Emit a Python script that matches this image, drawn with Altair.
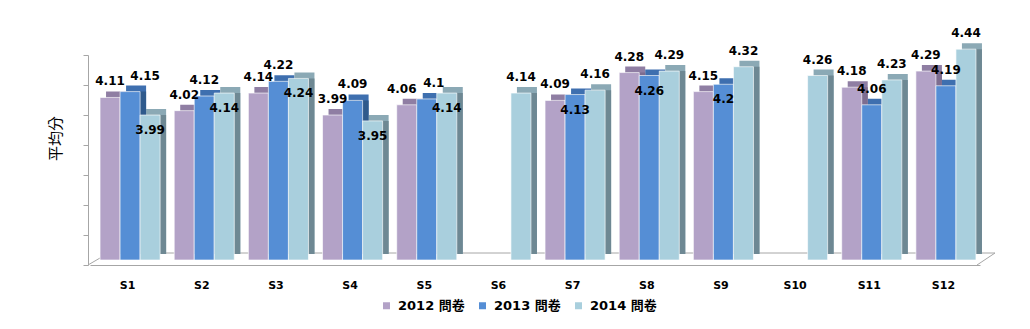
import altair as alt
import pandas as pd

# ---------------- data ----------------
categories = ["S1", "S2", "S3", "S4", "S5", "S6", "S7", "S8", "S9", "S10", "S11", "S12"]
series = ["2012 問卷", "2013 問卷", "2014 問卷"]
v2012 = [4.11, 4.02, 4.14, 3.99, 4.06, None, 4.09, 4.28, 4.15, None, 4.18, 4.29]
v2013 = [4.15, 4.12, 4.22, 4.09, 4.1, None, 4.13, 4.26, 4.2, None, 4.06, 4.19]
v2014 = [3.99, 4.14, 4.24, 3.95, 4.14, 4.14, 4.16, 4.29, 4.32, 4.26, 4.23, 4.44]

# ---------------- styles ----------------
# label placement: some labels sit just inside the bar top; a few are nudged sideways (px)
label_below = {"2013 問卷": ["S7", "S8", "S9"], "2014 問卷": ["S1", "S2", "S3", "S4", "S5"]}
label_dx = {("S1", "2013 問卷"): 15, ("S5", "2013 問卷"): 7, ("S5", "2012 問卷"): -5}

front_colors = ["#B3A2C7", "#558ED5", "#A9CFDD"]
top_colors = ["#8F7EA3", "#3E6FAF", "#8BA9B5"]
side_colors = ["#7D6D90", "#2F5A8C", "#6E8893"]
gray = "#A6A6A6"
FONT = "DejaVu Sans"
CJK = "DejaVu Sans, Noto Sans CJK TC"
GROUP = 0.81           # fraction of a category slot used by the bar group
BAR = GROUP / len(series)

rows = []
for k, (s, vals) in enumerate(zip(series, [v2012, v2013, v2014])):
    for i, (c, v) in enumerate(zip(categories, vals)):
        if v is None:
            continue
        x0 = i + 0.5 - GROUP / 2 + k * BAR
        rows.append({"cat": c, "year": s, "value": v, "base": 3.0,
                     "x0": x0, "x1": x0 + BAR, "xc": x0 + BAR / 2,
                     "pos": "below" if c in label_below.get(s, []) else "above",
                     "dx": label_dx.get((c, s), 0)})
df = pd.DataFrame(rows)

W, H = 890, 210
px_per_unit = 205 / 1.4
d0 = 3.0 - 5 / px_per_unit
d1 = 4.4
tick_vals = [d0 + i * (d1 - d0) / 7 for i in range(8)]

xscale = alt.Scale(domain=[0, len(categories)], nice=False, zero=False)
label_expr = "[" + ",".join("'%s'" % c for c in categories) + "][floor(datum.value)]"
xaxis = alt.Axis(title=None, ticks=False, grid=False, labelPadding=14, labelFontSize=11,
                 labelFontWeight="bold", labelFont=FONT, labelColor="#000000",
                 domainColor=gray, domainWidth=1, labelAngle=0,
                 values=[i + 0.5 for i in range(len(categories))], labelExpr=label_expr)
x0 = alt.X("x0:Q", scale=xscale, axis=xaxis)
x1 = alt.X2("x1:Q")
yscale = alt.Scale(domain=[d0, d1], nice=False, zero=False)
ys = alt.Y("value:Q", scale=yscale,
           axis=alt.Axis(title="平均分", labels=False, values=tick_vals, tickSize=5,
                         tickColor=gray, domainColor=gray, grid=False,
                         titleFont="Noto Sans CJK TC", titleFontSize=15, titleFontWeight="normal",
                         titleColor="#000000", titleX=-33, titleY=83, titleAngle=270,
                         titleAlign="center", titleBaseline="middle", offset=2))
y2 = alt.Y2("base:Q")

base = alt.Chart(df)

back_top = base.mark_bar(xOffset=9, x2Offset=9, yOffset=-6, y2Offset=-6).encode(
    x=x0, x2=x1, y=ys, y2=y2,
    color=alt.Color("year:N", scale=alt.Scale(domain=series, range=top_colors), legend=None))
back_side = base.mark_bar(xOffset=9, x2Offset=9, y2Offset=-6).encode(
    x=x0, x2=x1, y=ys, y2=y2,
    color=alt.Color("year:N", scale=alt.Scale(domain=series, range=side_colors), legend=None))
front = base.mark_bar(xOffset=3, x2Offset=3, stroke="#FFFFFF", strokeWidth=0.8,
                      strokeOpacity=0.8).encode(
    x=x0, x2=x1, y=ys, y2=y2,
    color=alt.Color("year:N", scale=alt.Scale(domain=series, range=front_colors),
                    legend=alt.Legend(title=None, orient="none", legendX=290, legendY=244,
                                      direction="horizontal", symbolType="square", symbolSize=49,
                                      symbolStrokeWidth=0, labelFont=CJK, labelFontSize=13,
                                      labelFontWeight="bold", labelColor="#000000",
                                      columnPadding=11, labelOffset=5)))

text_layers = []
for pos, dy in [("above", -12), ("below", 19)]:
    for dxv in sorted(set(df["dx"])):
        sub = df[(df["pos"] == pos) & (df["dx"] == dxv)]
        if sub.empty:
            continue
        text_layers.append(
            base.transform_filter((alt.datum.pos == pos) & (alt.datum.dx == int(dxv))).mark_text(
                dy=dy, dx=3 + int(dxv), font=FONT, fontSize=12, fontWeight="bold",
                color="#000000", baseline="alphabetic", align="center").encode(
                x=alt.X("xc:Q", scale=xscale), y=ys, text=alt.Text("value:Q", format="~g")))

one = pd.DataFrame({"a": [0]})
floor_back = alt.Chart(one).mark_rule(color=gray, strokeWidth=1).encode(
    x=alt.value(10), x2=alt.value(905), y=alt.value(198))
floor_right = alt.Chart(one).mark_rule(color=gray, strokeWidth=1).encode(
    x=alt.value(905), x2=alt.value(887), y=alt.value(198), y2=alt.value(210))
floor_left = alt.Chart(one).mark_rule(color=gray, strokeWidth=1).encode(
    x=alt.value(-2), x2=alt.value(10), y=alt.value(210), y2=alt.value(203))

chart = alt.layer(
    floor_back, floor_right, floor_left, back_top, back_side, front, *text_layers
).resolve_scale(color="independent").properties(
    width=W, height=H,
    autosize=alt.AutoSizeParams(type="none"),
    padding={"left": 90, "top": 55, "right": 50, "bottom": 64},
    background="#FFFFFF",
).configure_view(stroke=None)

chart.save("out.html", embed_options={"renderer": "svg", "actions": False})
